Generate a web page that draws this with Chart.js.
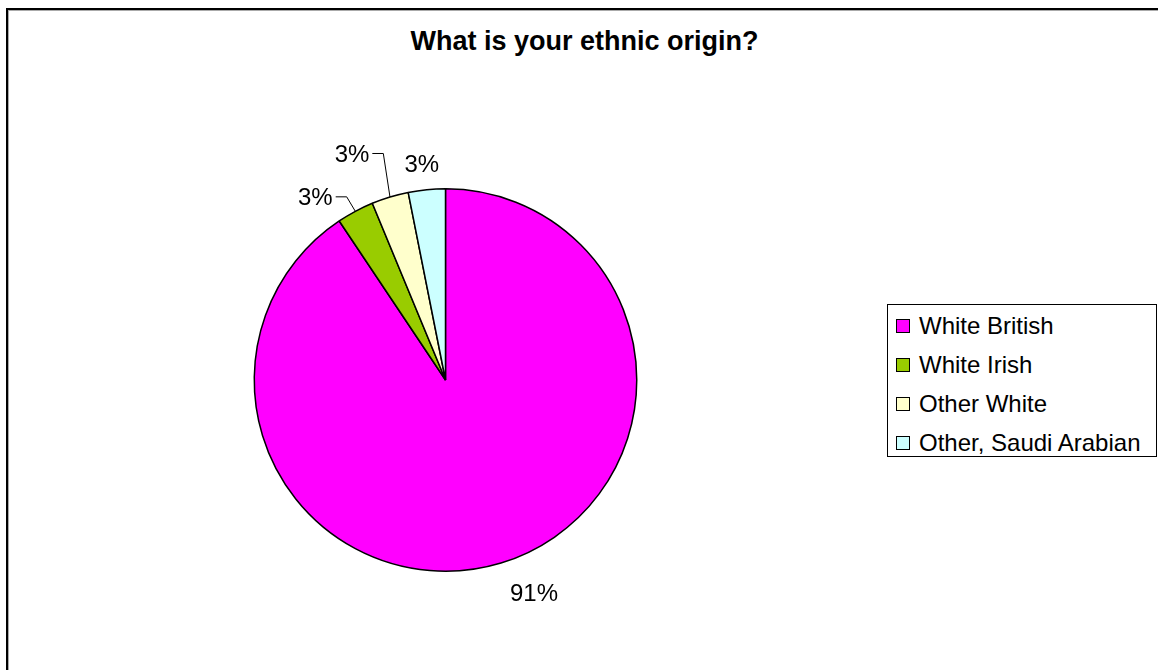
<!DOCTYPE html>
<html>
<head>
<meta charset="utf-8">
<script src="https://cdn.jsdelivr.net/npm/chart.js@4.4.1/dist/chart.umd.min.js"></script>
<style>
  html, body { margin: 0; padding: 0; background: #fff; }
  body { width: 1158px; height: 670px; position: relative; overflow: hidden;
         font-family: "Liberation Sans", Arial, sans-serif; }
  #frame { position: absolute; left: 6px; top: 8px; width: 1200px; height: 700px;
           border-left: 2px solid #000; border-top: 2px solid #000;
           box-shadow: inset 1px 1px 0 #aaa; }
  #title { position: absolute; left: 0; width: 1169px; top: 26px; text-align: center;
           font-weight: bold; font-size: 27px; line-height: 30px; color: #000; }
  #pie { position: absolute; left: 0; top: 0; }
  #legend { position: absolute; left: 887px; top: 304px; width: 270px; height: 153px;
            border: 1px solid #000; background: #fff; box-sizing: border-box; }
  .item { position: absolute; left: 8px; height: 28px; font-size: 24px; line-height: 28px;
          white-space: nowrap; color: #000; }
  .item i { display: inline-block; width: 12px; height: 12px; border: 1px solid #000;
            margin-right: 9px; vertical-align: 1px; }
</style>
</head>
<body>
<div id="frame"></div>
<div id="title">What is your ethnic origin?</div>
<canvas id="pie" width="1158" height="670"></canvas>
<div id="legend"></div>
<script>
const categories = ["White British", "White Irish", "Other White", "Other, Saudi Arabian"];
const counts = [29, 1, 1, 1];
const percentLabels = ["91%", "3%", "3%", "3%"];
const colors = ["#FF00FF", "#99CC00", "#FFFFCC", "#CCFFFF"];

// label placement relative to the slice's outer edge at its mid angle
const labelOffsets = [[33, 31], [-40, -13], [-38, -42], [-5, -24]];
const leaderLines = [false, true, true, false];

const legend = document.getElementById("legend");
categories.forEach((name, i) => {
  const row = document.createElement("div");
  row.className = "item";
  row.style.top = (7 + i * 39) + "px";
  row.innerHTML = '<i style="background:' + colors[i] + '"></i>' + name;
  legend.appendChild(row);
});

const pieLabels = {
  id: "pieLabels",
  afterDatasetsDraw(chart) {
    const ctx = chart.ctx;
    const arcs = chart.getDatasetMeta(0).data;
    ctx.save();
    ctx.font = '24px "Liberation Sans", Arial, sans-serif';
    ctx.fillStyle = "#000";
    ctx.strokeStyle = "#000";
    ctx.lineWidth = 1;
    ctx.textAlign = "center";
    ctx.textBaseline = "middle";
    arcs.forEach((arc, i) => {
      const p = arc.getProps(["x", "y", "startAngle", "endAngle", "outerRadius"], true);
      const mid = (p.startAngle + p.endAngle) / 2;
      const ex = p.x + Math.cos(mid) * p.outerRadius;
      const ey = p.y + Math.sin(mid) * p.outerRadius;
      const cx = ex + labelOffsets[i][0];
      const cy = ey + labelOffsets[i][1];
      ctx.fillText(percentLabels[i], cx, cy);
      if (leaderLines[i]) {
        const right = cx + ctx.measureText(percentLabels[i]).width / 2;
        ctx.beginPath();
        ctx.moveTo(right + 3, cy - 1.5);
        ctx.lineTo(right + 14, cy - 1.5);
        ctx.lineTo(ex, ey);
        ctx.stroke();
      }
    });
    ctx.restore();
  }
};

new Chart(document.getElementById("pie"), {
  type: "pie",
  data: {
    labels: categories,
    datasets: [{
      data: counts,
      backgroundColor: colors,
      borderColor: "#000",
      borderWidth: 1.5
    }]
  },
  options: {
    responsive: false,
    animation: false,
    layout: { padding: { left: 253, right: 520, top: 188, bottom: 98 } },
    plugins: {
      legend: { display: false },
      title: { display: false },
      tooltip: { enabled: false }
    }
  },
  plugins: [pieLabels]
});
</script>
</body>
</html>
